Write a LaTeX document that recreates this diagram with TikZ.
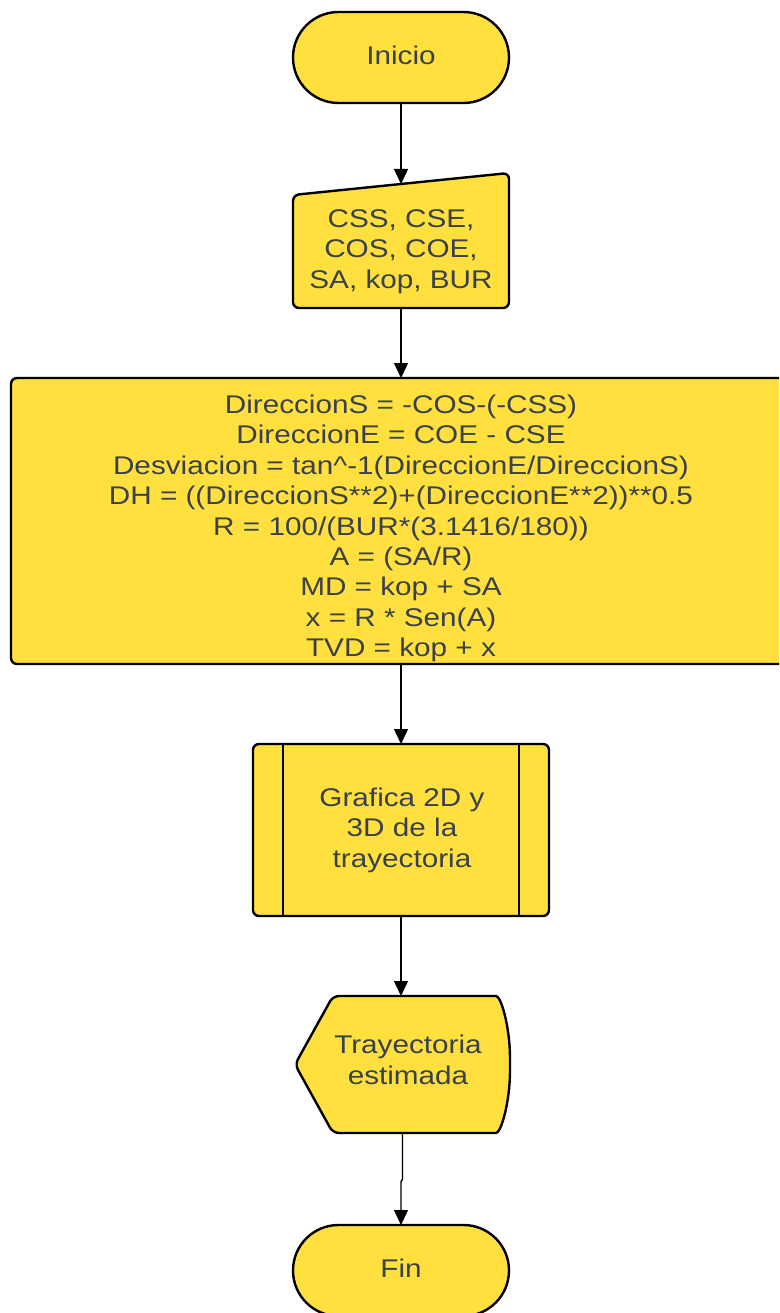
\documentclass[tikz,border=0pt]{standalone}
\usepackage{fontspec}
\setmainfont{Liberation Sans}[FakeStretch=1.16]
\usetikzlibrary{arrows.meta,calc}
\definecolor{relleno}{HTML}{FFE03F}
\definecolor{tinta}{RGB}{58,65,76}

\begin{document}
\begin{tikzpicture}[x=1pt,y=-1pt,
  forma/.style={draw=black, line width=2.4pt, fill=relleno, rounded corners=6pt},
  caja/.style={inner sep=0pt, outer sep=0pt},
  texto/.style={text=tinta, align=center, inner sep=0pt,
                font=\fontsize{25.6}{30.4}\selectfont},
  flecha/.style={draw=black, line width=1.4pt, -{Triangle[length=15pt,width=14pt]}}
]
\useasboundingbox (0,0) rectangle (779,1313);
\clip (0,0) rectangle (779,1313);

% Inicio (terminal)
\node[forma, caja, minimum width=216pt, minimum height=91pt,
      rounded corners=45.5pt] (inicio) at (401,57.5) {};
\node[texto] (iniciotxt) at (401,55.5) {Inicio};

% Entrada manual de datos
\node[caja, minimum width=216pt, minimum height=124pt] (entrada) at (401,246) {};
\draw[forma] (entrada.south west) -- (entrada.south east)
  -- ([yshift=11pt]entrada.north east) -- ([yshift=-11pt]entrada.north west) -- cycle;
\node[texto] (entradatxt) at (401,251.5) {CSS, CSE,\\COS, COE,\\SA, kop, BUR};

% Proceso de calculo
\node[forma, caja, minimum width=780pt, minimum height=286pt] (calculo) at (401,521) {};
\node[texto] (calculotxt) at (401,528.5) {DireccionS = -COS-(-CSS)\\
DireccionE = COE - CSE\\
Desviacion = tan\^{}-1(DireccionE/DireccionS)\\
DH = ((DireccionS**2)+(DireccionE**2))**0.5\\
R = 100/(BUR*(3.1416/180))\\
A = (SA/R)\\
MD = kop + SA\\
x = R * Sen(A)\\
TVD = kop + x};

% Proceso predefinido
\node[forma, caja, minimum width=296pt, minimum height=172pt] (grafica) at (401,830) {};
\draw[line width=2.4pt] ([xshift=30pt]grafica.north west) -- ([xshift=30pt]grafica.south west);
\draw[line width=2.4pt] ([xshift=-30pt]grafica.north east) -- ([xshift=-30pt]grafica.south east);
\node[texto] (graficatxt) at (402,830) {Grafica 2D y\\3D de la\\trayectoria};

% Salida por pantalla
\node[caja, minimum width=215pt, minimum height=137pt] (salida) at (402.5,1064.5) {};
\draw[forma] (salida.west) -- ([xshift=38pt]salida.north west)
  -- ([xshift=-20pt]salida.north east)
  .. controls ([xshift=-9pt]salida.north east) and ([yshift=37.8pt]salida.east) .. (salida.east)
  .. controls ([yshift=-37.8pt]salida.east) and ([xshift=-9pt]salida.south east) .. ([xshift=-20pt]salida.south east)
  -- ([xshift=38pt]salida.south west) -- cycle;
\node[texto] (salidatxt) at (408,1060) {Trayectoria\\estimada};

% Fin (terminal)
\node[forma, caja, minimum width=216pt, minimum height=91pt,
      rounded corners=45.5pt] (fin) at (401,1270.5) {};
\node[texto] (fintxt) at (401,1268) {Fin};

% Conectores
\coordinate (codo) at (401,1182);
\draw[flecha] (inicio) -- (entrada);
\draw[flecha] (entrada) -- (calculo);
\draw[flecha] (calculo) -- (grafica);
\draw[flecha] (grafica.south) -- (grafica.south |- salida.north);
\draw[flecha] (salida.south) -- ([yshift=3pt]salida.south |- codo) -- (codo) -- (fin.north);
\end{tikzpicture}
\end{document}
